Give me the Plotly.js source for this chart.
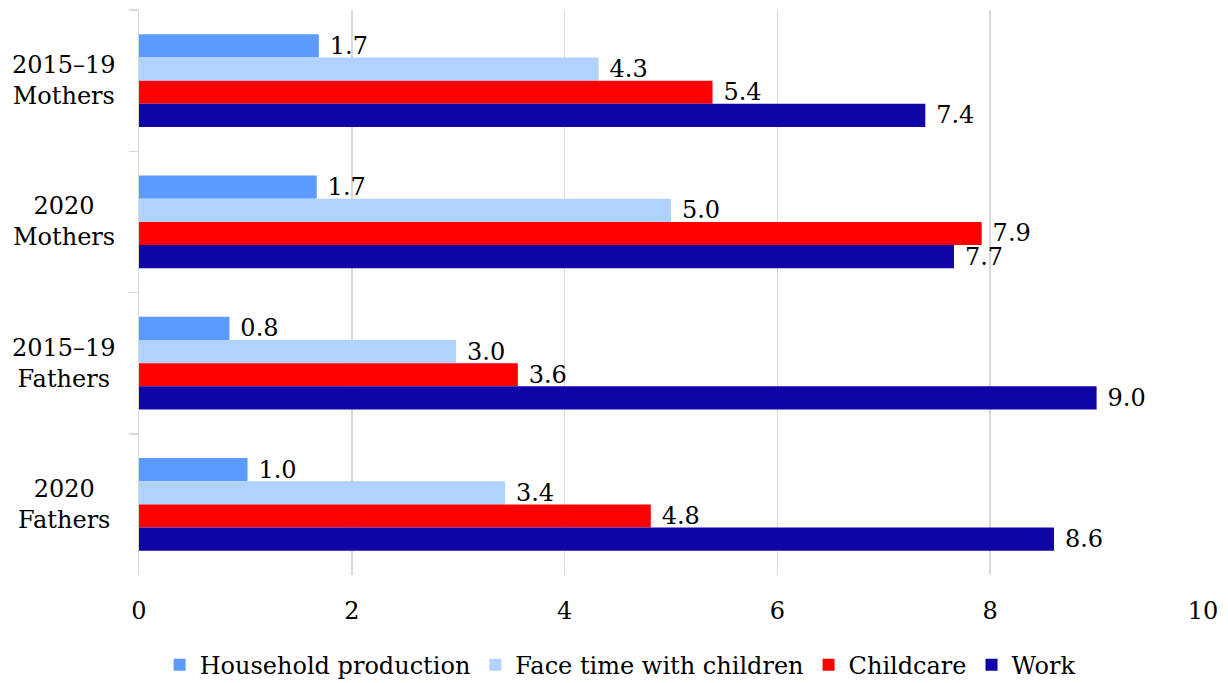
<!DOCTYPE html>
<html>
<head>
<meta charset="utf-8">
<script src="https://cdn.plot.ly/plotly-3.0.1.min.js"></script>
<style>html,body{margin:0;padding:0;background:#fff;}#chart{width:1228px;height:683px;}</style>
</head>
<body>
<div id="chart"></div>
<script>
const categories = ["2015–19<br>Mothers", "2020<br>Mothers", "2015–19<br>Fathers", "2020<br>Fathers"];
const seriesNames = ["Household production", "Face time with children", "Childcare", "Work"];
const householdProduction = [1.7, 1.7, 0.8, 1.0];
const faceTimeWithChildren = [4.3, 5.0, 3.0, 3.4];
const childcare = [5.4, 7.9, 3.6, 4.8];
const work = [7.4, 7.7, 9.0, 8.6];
// plotted lengths (labels show rounded values)
const householdLen = [1.69, 1.67, 0.85, 1.02];
const faceLen = [4.32, 5.0, 2.98, 3.44];
const childLen = [5.39, 7.92, 3.56, 4.81];
const workLen = [7.39, 7.66, 9.0, 8.6];
const xTicks = [0, 2, 4, 6, 8, 10];

const colors = ["#5B9BFF", "#B0D2FF", "#FF0000", "#1006A6"];
const FONT = "DejaVu Serif";
const FS = 24;

const lens = [householdLen, faceLen, childLen, workLen];
const labels = [householdProduction, faceTimeWithChildren, childcare, work];

const traces = seriesNames.map((name, i) => ({
  type: "bar",
  orientation: "h",
  name: name,
  y: categories,
  x: lens[i],
  text: labels[i].map(v => "\u2004" + v.toFixed(1)),
  textposition: "outside",
  constraintext: "none",
  cliponaxis: false,
  textfont: {family: FONT, size: FS, color: "#000"},
  marker: {color: colors[i], line: {width: 0}},
  hoverinfo: "x+name"
}));

const annotations = categories.map(c => ({
  xref: "paper", yref: "y", x: -0.0705, y: c,
  text: c, showarrow: false, xanchor: "center", yanchor: "middle", align: "center",
  font: {family: FONT, size: FS, color: "#000"}
}));

const layout = {
  width: 1228, height: 683,
  margin: {l: 139, r: 25, t: 10, b: 108},
  paper_bgcolor: "#fff", plot_bgcolor: "#fff",
  barmode: "group",
  bargap: 0.345,
  bargroupgap: 0,
  font: {family: FONT, size: FS, color: "#000"},
  xaxis: {
    range: [0, 10], tickvals: xTicks, ticktext: xTicks.map(String),
    showgrid: true, gridcolor: "#D9D9D9", gridwidth: 1.5,
    zeroline: false, showline: false, ticks: "",
    ticklabelstandoff: 19,
    tickfont: {family: FONT, size: FS, color: "#000"}
  },
  yaxis: {
    autorange: "reversed", type: "category",
    showticklabels: false,
    ticks: "outside", tickson: "boundaries", ticklen: 9, tickcolor: "#D9D9D9", tickwidth: 1.5,
    showline: true, linecolor: "#D9D9D9", linewidth: 1.5,
    showgrid: false, zeroline: false
  },
  showlegend: true,
  legend: {
    orientation: "h", xref: "container", yref: "container",
    x: 0.505, xanchor: "center", y: 0.026, yanchor: "middle",
    traceorder: "normal",
    font: {family: FONT, size: FS, color: "#000"},
    itemwidth: 30
  },
  annotations: annotations
};

Plotly.newPlot("chart", traces, layout, {displayModeBar: false, staticPlot: true});
</script>
</body>
</html>
